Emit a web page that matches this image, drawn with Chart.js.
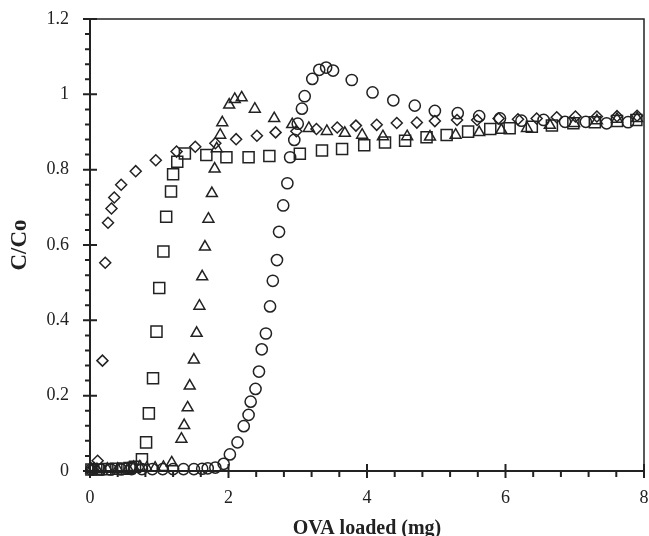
<!DOCTYPE html>
<html>
<head>
<meta charset="utf-8">
<script src="https://cdn.jsdelivr.net/npm/chart.js@4"></script>
<style>
  html, body { margin: 0; padding: 0; background: #fff; }
  #wrap { width: 649px; height: 536px; }
</style>
</head>
<body>
<div id="wrap"><canvas id="chart"></canvas></div>
<script>
// diamonds
const diamondX = [0.02, 0.06, 0.11, 0.18, 0.22, 0.26, 0.31, 0.35, 0.45, 0.66, 0.95, 1.25, 1.52, 1.81, 2.11, 2.41, 2.68, 2.98, 3.27, 3.57, 3.84, 4.14, 4.43, 4.72, 4.98, 5.30, 5.59, 5.90, 6.18, 6.45, 6.74, 7.01, 7.32, 7.61, 7.90];
const diamondY = [0.005, 0.008, 0.027, 0.293, 0.553, 0.659, 0.697, 0.726, 0.760, 0.796, 0.825, 0.848, 0.861, 0.870, 0.881, 0.890, 0.899, 0.902, 0.908, 0.912, 0.917, 0.919, 0.924, 0.925, 0.929, 0.932, 0.932, 0.936, 0.934, 0.936, 0.939, 0.941, 0.941, 0.942, 0.943];

// squares
const squareX = [0.02, 0.12, 0.25, 0.38, 0.48, 0.57, 0.65, 0.75, 0.81, 0.85, 0.91, 0.96, 1.00, 1.06, 1.10, 1.17, 1.20, 1.26, 1.37, 1.68, 1.97, 2.29, 2.59, 3.03, 3.35, 3.64, 3.96, 4.26, 4.55, 4.86, 5.15, 5.46, 5.78, 6.06, 6.38, 6.67, 6.98, 7.29, 7.61, 7.89];
const squareY = [0.004, 0.004, 0.005, 0.006, 0.006, 0.008, 0.011, 0.031, 0.076, 0.153, 0.246, 0.370, 0.486, 0.583, 0.675, 0.742, 0.788, 0.821, 0.843, 0.839, 0.833, 0.833, 0.836, 0.842, 0.851, 0.855, 0.865, 0.872, 0.877, 0.886, 0.892, 0.901, 0.908, 0.910, 0.914, 0.917, 0.923, 0.926, 0.929, 0.932];

// triangles
const triangleX = [0.02, 0.10, 0.25, 0.40, 0.55, 0.63, 0.72, 0.82, 0.94, 1.06, 1.18, 1.32, 1.36, 1.41, 1.44, 1.50, 1.54, 1.58, 1.62, 1.66, 1.71, 1.76, 1.80, 1.83, 1.88, 1.91, 2.01, 2.09, 2.19, 2.38, 2.66, 2.92, 3.16, 3.42, 3.68, 3.93, 4.23, 4.58, 4.91, 5.28, 5.62, 5.94, 6.31, 6.64, 6.99, 7.32, 7.61, 7.90];
const triangleY = [0.004, 0.004, 0.005, 0.005, 0.006, 0.010, 0.011, 0.008, 0.008, 0.010, 0.022, 0.085, 0.121, 0.168, 0.226, 0.295, 0.366, 0.438, 0.516, 0.595, 0.669, 0.737, 0.802, 0.856, 0.892, 0.925, 0.972, 0.987, 0.991, 0.961, 0.936, 0.920, 0.910, 0.902, 0.897, 0.892, 0.888, 0.888, 0.887, 0.892, 0.899, 0.905, 0.910, 0.918, 0.923, 0.930, 0.934, 0.936];

// circles
const circleX = [0.02, 0.15, 0.30, 0.45, 0.60, 0.75, 0.90, 1.05, 1.20, 1.35, 1.50, 1.62, 1.70, 1.81, 1.93, 2.02, 2.13, 2.22, 2.29, 2.32, 2.39, 2.44, 2.48, 2.54, 2.60, 2.64, 2.70, 2.73, 2.79, 2.85, 2.89, 2.95, 3.00, 3.06, 3.10, 3.21, 3.31, 3.41, 3.51, 3.78, 4.08, 4.38, 4.69, 4.98, 5.31, 5.62, 5.92, 6.23, 6.55, 6.86, 7.16, 7.46, 7.77];
const circleY = [0.004, 0.004, 0.004, 0.004, 0.005, 0.005, 0.005, 0.005, 0.005, 0.005, 0.005, 0.006, 0.007, 0.009, 0.019, 0.044, 0.076, 0.119, 0.149, 0.184, 0.218, 0.264, 0.323, 0.365, 0.437, 0.505, 0.560, 0.635, 0.705, 0.764, 0.833, 0.879, 0.922, 0.962, 0.995, 1.041, 1.065, 1.071, 1.063, 1.038, 1.005, 0.984, 0.970, 0.956, 0.950, 0.942, 0.936, 0.930, 0.932, 0.927, 0.927, 0.923, 0.926];

const xTicks = [0, 2, 4, 6, 8];
const yTicks = [0, 0.2, 0.4, 0.6, 0.8, 1, 1.2];

const ink = '#222';
const serif = "'Liberation Serif', 'Times New Roman', serif";

function pts(xs, ys) {
  return xs.map((x, i) => ({ x: x, y: ys[i] }));
}

function series(label, xs, ys, style, radius) {
  return {
    label: label,
    data: pts(xs, ys),
    pointStyle: style,
    pointRadius: radius,
    pointBorderWidth: 1.5,
    borderColor: ink,
    backgroundColor: 'rgba(0,0,0,0)',
    showLine: false,
    clip: false
  };
}

// frame + tick marks (major cross the axis, minor outside)
const axesFrame = {
  id: 'axesFrame',
  beforeDatasetsDraw(chart) {
    const { ctx, chartArea: a, scales: { x, y } } = chart;
    ctx.save();
    ctx.strokeStyle = ink;
    ctx.lineWidth = 1.5;
    ctx.strokeRect(a.left, a.top, a.right - a.left, a.bottom - a.top);
    ctx.lineWidth = 2;
    ctx.beginPath();
    ctx.moveTo(a.left, a.top);
    ctx.lineTo(a.left, a.bottom);
    ctx.lineTo(a.right, a.bottom);
    for (let i = 0; i <= 20; i++) {
      const px = x.getPixelForValue(i * 0.4);
      if (i % 5 === 0) {
        ctx.moveTo(px, a.bottom - 7);
        ctx.lineTo(px, a.bottom + 7);
      } else {
        ctx.moveTo(px, a.bottom);
        ctx.lineTo(px, a.bottom + 6);
      }
    }
    for (let i = 0; i <= 30; i++) {
      const py = y.getPixelForValue(i * 0.04);
      if (i % 5 === 0) {
        ctx.moveTo(a.left - 7, py);
        ctx.lineTo(a.left + 7, py);
      } else {
        ctx.moveTo(a.left - 5, py);
        ctx.lineTo(a.left, py);
      }
    }
    ctx.stroke();
    ctx.restore();
  }
};

// invisible tick marks just give the labels their distance from the axis
function hiddenGrid(len) {
  return { display: true, drawOnChartArea: false, drawTicks: true, tickLength: len, color: 'rgba(0,0,0,0)' };
}

const ctx = document.getElementById('chart').getContext('2d');
const chart = new Chart(ctx, {
  type: 'scatter',
  data: {
    datasets: [
      series('Diamonds', diamondX, diamondY, 'rectRot', 5.5),
      series('Squares', squareX, squareY, 'rect', 7.8),
      series('Triangles', triangleX, triangleY, 'triangle', 6.3),
      series('Circles', circleX, circleY, 'circle', 5.6)
    ]
  },
  options: {
    responsive: true,
    maintainAspectRatio: false,
    animation: false,
    layout: { autoPadding: false, padding: { top: 19, right: 5, left: 0, bottom: 0 } },
    plugins: {
      legend: { display: false },
      tooltip: { enabled: false }
    },
    scales: {
      x: {
        type: 'linear',
        min: 0,
        max: 8,
        afterFit: s => { s.height = 65; },
        afterBuildTicks: s => { s.ticks = xTicks.map(v => ({ value: v })); },
        grid: hiddenGrid(16),
        border: { display: false },
        ticks: {
          padding: 0,
          color: ink,
          font: { family: serif, size: 18 },
          maxRotation: 0,
          callback: v => String(v)
        },
        title: {
          display: true,
          text: 'OVA loaded (mg)',
          color: ink,
          padding: 0,
          font: { family: serif, size: 20, weight: 'bold', lineHeight: 0.75 }
        }
      },
      y: {
        type: 'linear',
        min: 0,
        max: 1.2,
        afterFit: s => { s.width = 90; },
        afterBuildTicks: s => { s.ticks = yTicks.map(v => ({ value: v })); },
        grid: hiddenGrid(21),
        border: { display: false },
        ticks: {
          padding: 0,
          color: ink,
          font: { family: serif, size: 18 },
          callback: v => String(+v.toFixed(1))
        },
        title: {
          display: true,
          text: 'C/Co',
          color: ink,
          padding: { top: 6, bottom: 0 },
          font: { family: serif, size: 23, weight: 'bold' }
        }
      }
    }
  },
  plugins: [axesFrame]
});
</script>
</body>
</html>
